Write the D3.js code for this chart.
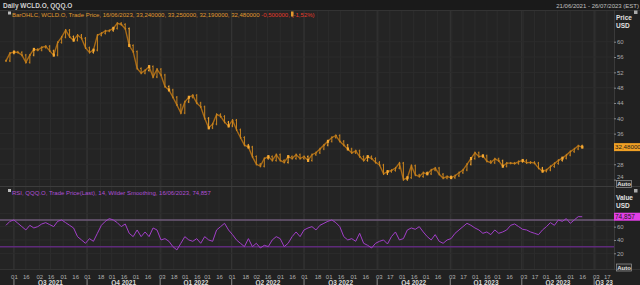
<!DOCTYPE html>
<html lang="en">
<head>
<meta charset="utf-8" />
<title>Daily WCLD.O, QQQ.O</title>
<script src="https://d3js.org/d3.v7.min.js"></script>
<style>
    body {
        margin: 0;
        background: #222222;
        font-family: "Liberation Sans", Arial, sans-serif;
        overflow: hidden;
    }
    svg { display: block; }
</style>
</head>
<body>
<script>
// one sample every 5 days, 21/06/2021 .. 16/06/2023
const firstDay = new Date(2021, 5, 21);
const stepDays = 5;

// WCLD.O close
const closes = [
    55, 57, 57.3, 57.2, 56.5, 54.6, 56.5, 58, 57.8, 58.5,
    58.8, 57.6, 56.5, 59.8, 61.2, 63, 61.3, 60.4, 61.7, 60.9,
    58.4, 57.2, 57.8, 61.7, 62.2, 62.8, 62.9, 63.5, 64.8, 64.5,
    63.4, 59, 57.4, 53, 51.8, 52.5, 53.5, 50.8, 52.8, 51.3,
    48.3, 47.4, 45.5, 43.5, 41.4, 44.3, 45.5, 46, 44, 43,
    40, 37.5, 38.5, 41, 40.5, 39, 38, 39.5, 37, 35,
    33, 32.5, 30, 28, 27.5, 29.5, 30, 29, 30.5, 29,
    28.5, 30, 29.5, 30.5, 29.5, 30, 29, 30.5, 31, 32,
    33, 34, 35, 35.5, 34, 33, 32, 31, 31.5, 30,
    29, 30, 29.5, 28.5, 27.8, 25.5, 26.1, 26.4, 27, 28.3,
    24, 24.5, 27.6, 25.2, 24.8, 25.8, 25.5, 26.5, 27, 25.4,
    24.4, 24.8, 24.5, 25, 25.8, 26.5, 28, 29.5, 31, 30,
    30.2, 28.8, 28.4, 29.4, 28.9, 27.5, 28.3, 28.3, 28.2, 28.7,
    29, 28.4, 28.5, 28.3, 27, 26.2, 26.5, 27.4, 28.2, 29,
    29.6, 30.4, 31.3, 32, 32.8, 32.48
];

// samples drawn as brighter bars
const highlighted = [2, 7, 12, 17, 22, 27, 31, 36, 41, 46, 51, 56, 61, 66, 71, 76,
    81, 86, 91, 96, 101, 106, 112, 117, 120, 125, 130, 135, 140, 145];

// QQQ.O RSI(14)
const rsiValues = [
    62, 68, 70, 65, 60, 55, 62, 58, 60, 64,
    66, 63, 60, 68, 70, 66, 62, 58, 45, 40,
    35, 42, 38, 50, 62, 68, 72, 70, 66, 60,
    64, 50, 45, 55, 45, 52, 45, 58, 55, 40,
    42, 38, 30, 25, 35, 45, 40, 38, 42, 35,
    45, 40, 38, 55, 60, 65, 55, 48, 40, 35,
    30, 42, 30, 35, 28, 32, 30, 40, 45, 42,
    30, 35, 45, 52, 45, 55, 58, 60, 55, 62,
    65, 68, 70, 66, 60, 45, 40, 42, 38, 50,
    35, 32, 28, 35, 38, 40, 34, 45, 52, 40,
    42, 55, 58, 56, 60, 52, 45, 40, 48, 38,
    35, 40, 42, 50, 55, 60, 65, 62, 58, 55,
    50, 52, 48, 55, 50, 52, 55, 62, 64, 60,
    56, 55, 52, 50, 48, 55, 60, 66, 62, 70,
    68, 72, 65, 70, 75, 74.857
];

const priceTicks = [24, 28, 32, 36, 40, 44, 48, 52, 56, 60];
const rsiTicks = [20, 40, 60, 80];
const rsiBands = [30, 70];

const dayTicks = [
    "2021-07-01", "2021-07-16", "2021-08-02", "2021-08-16", "2021-09-01", "2021-09-16",
    "2021-10-01", "2021-10-18", "2021-11-01", "2021-11-16", "2021-12-01", "2021-12-16",
    "2022-01-03", "2022-01-18", "2022-02-01", "2022-02-16", "2022-03-01", "2022-03-16",
    "2022-04-01", "2022-04-18", "2022-05-02", "2022-05-16", "2022-06-01", "2022-06-16",
    "2022-07-01", "2022-07-18", "2022-08-01", "2022-08-16", "2022-09-01", "2022-09-16",
    "2022-10-03", "2022-10-17", "2022-11-01", "2022-11-16", "2022-12-01", "2022-12-16",
    "2023-01-03", "2023-01-17", "2023-02-01", "2023-02-16", "2023-03-01", "2023-03-16",
    "2023-04-03", "2023-04-17", "2023-05-01", "2023-05-16", "2023-06-01", "2023-06-16",
    "2023-07-03", "2023-07-17"
];
const quarterStarts = ["2021-07-01", "2021-10-01", "2022-01-01", "2022-04-01", "2022-07-01",
    "2022-10-01", "2023-01-01", "2023-04-01", "2023-07-01"];
const quarterLabels = ["Q3 2021", "Q4 2021", "Q1 2022", "Q2 2022", "Q3 2022",
    "Q4 2022", "Q1 2023", "Q2 2023", "Q3 23"];

const parse = d3.timeParse("%Y-%m-%d");
const dates = closes.map((c, i) => d3.timeDay.offset(firstDay, i * stepDays));
const rangeStart = parse("2021-06-21");
const rangeEnd = parse("2023-07-26");

const W = 640, H = 285;
const left = 6, right = 614;
const priceTop = 10, priceBottom = 186;
const rsiTop = 187, rsiBottom = 269;

const x = d3.scaleTime().domain([rangeStart, rangeEnd]).range([left, right]);
const yPrice = d3.scaleLinear().domain([24, 60]).range([179.6, 41.7]);
const yRsi = d3.scaleLinear().domain([20, 80]).range([253.3, 213.3]);

const lastClose = closes[closes.length - 1];
const lastRsi = rsiValues[rsiValues.length - 1];

const svg = d3.select("body").append("svg")
    .attr("width", W)
    .attr("height", H);

svg.append("rect").attr("width", W).attr("height", H).attr("fill", "#212121");
svg.append("rect").attr("width", W).attr("height", 10).attr("fill", "#1a1a1a");

// panels
[[priceTop, priceBottom], [rsiTop, rsiBottom]].forEach(function(p) {
    svg.append("rect")
        .attr("x", 0).attr("y", p[0])
        .attr("width", right).attr("height", p[1] - p[0])
        .attr("fill", "#242424");
});

// vertical grid
const grid = svg.append("g");
dayTicks.map(parse).forEach(function(d) {
    [[priceTop, priceBottom], [rsiTop, rsiBottom]].forEach(function(p) {
        grid.append("line")
            .attr("x1", x(d)).attr("x2", x(d))
            .attr("y1", p[0]).attr("y2", p[1])
            .attr("stroke", "#2c2c2c").attr("stroke-width", 1);
    });
});
quarterStarts.map(parse).forEach(function(d) {
    [[priceTop, priceBottom], [rsiTop, rsiBottom]].forEach(function(p) {
        grid.append("line")
            .attr("x1", x(d)).attr("x2", x(d))
            .attr("y1", p[0]).attr("y2", p[1])
            .attr("stroke", "#363636").attr("stroke-width", 1);
    });
});

// horizontal grid
priceTicks.forEach(function(t) {
    grid.append("line")
        .attr("x1", 0).attr("x2", right)
        .attr("y1", yPrice(t)).attr("y2", yPrice(t))
        .attr("stroke", "#2c2c2c");
});
rsiTicks.forEach(function(t) {
    grid.append("line")
        .attr("x1", 0).attr("x2", right)
        .attr("y1", yRsi(t)).attr("y2", yRsi(t))
        .attr("stroke", "#2c2c2c");
});

// panel separators
svg.append("line").attr("x1", 0).attr("x2", W).attr("y1", 10.5).attr("y2", 10.5).attr("stroke", "#333");
svg.append("line").attr("x1", 0).attr("x2", W).attr("y1", 186.5).attr("y2", 186.5).attr("stroke", "#3c3c3c");
svg.append("line").attr("x1", 0).attr("x2", W).attr("y1", 269.5).attr("y2", 269.5).attr("stroke", "#333");
svg.append("line").attr("x1", right + 0.5).attr("x2", right + 0.5).attr("y1", 10).attr("y2", 270).attr("stroke", "#3a3a3a");

// OHLC-style bars
svg.append("path")
    .datum(closes)
    .attr("fill", "none")
    .attr("stroke", "#a86a16")
    .attr("stroke-width", 1.4)
    .attr("d", d3.line()
        .x(function(d, i) { return x(dates[i]); })
        .y(function(d) { return yPrice(d); }));

const bars = svg.append("g").attr("stroke-width", 1);
closes.forEach(function(c, i) {
    const prev = i > 0 ? closes[i - 1] : c;
    const px = x(dates[i]);
    const col = highlighted.includes(i) ? "#f2a531" : "#c88420";
    const hi = yPrice(Math.max(prev, c)) - 1.2;
    const lo = yPrice(Math.min(prev, c)) + 1.2;
    bars.append("line").attr("x1", px).attr("x2", px).attr("y1", hi).attr("y2", lo).attr("stroke", col);
    bars.append("line").attr("x1", px - 1).attr("x2", px).attr("y1", yPrice(prev)).attr("y2", yPrice(prev)).attr("stroke", col);
    bars.append("line").attr("x1", px).attr("x2", px + 1).attr("y1", yPrice(c)).attr("y2", yPrice(c)).attr("stroke", col);
    if (highlighted.includes(i)) {
        bars.append("rect")
            .attr("x", px - 1).attr("y", yPrice(c) - 1.5)
            .attr("width", 2.2).attr("height", 3)
            .attr("fill", "#f5a832").attr("stroke", "none");
    }
});

// RSI bands and line
rsiBands.forEach(function(b) {
    svg.append("line")
        .attr("x1", 0).attr("x2", right)
        .attr("y1", yRsi(b)).attr("y2", yRsi(b))
        .attr("stroke", b > 50 ? "#6e5a78" : "#5e2a7a").attr("stroke-width", 1.5);
});
svg.append("path")
    .datum(rsiValues)
    .attr("fill", "none")
    .attr("stroke", "#a23fc9")
    .attr("stroke-width", 1)
    .attr("d", d3.line()
        .x(function(d, i) { return x(dates[i]); })
        .y(function(d) { return yRsi(d); }));

// right axes; labels hidden behind the last-value boxes are dropped
const priceAxis = svg.append("g")
    .attr("transform", "translate(" + right + ",0)")
    .call(d3.axisRight(yPrice)
        .tickValues(priceTicks.filter(function(t) { return Math.abs(yPrice(t) - yPrice(lastClose)) > 6; }))
        .tickSize(2).tickFormat(d3.format("d")));
const rsiAxis = svg.append("g")
    .attr("transform", "translate(" + right + ",0)")
    .call(d3.axisRight(yRsi)
        .tickValues(rsiTicks.filter(function(t) { return Math.abs(yRsi(t) - yRsi(lastRsi)) > 6; }))
        .tickSize(2).tickFormat(d3.format("d")));
[priceAxis, rsiAxis].forEach(function(a) {
    a.select(".domain").remove();
    a.selectAll("line").attr("stroke", "#888");
    a.selectAll("text").attr("fill", "#a8a8a8").attr("font-size", 6)
        .attr("font-family", "Liberation Sans, Arial, sans-serif").attr("x", 3);
});
// lowest price label sits above the Auto button
priceAxis.selectAll(".tick").filter(function(d) { return d === 24; })
    .select("text").attr("dy", "-0.2em");

// bottom axis
const xAxis = svg.append("g")
    .attr("transform", "translate(0," + rsiBottom + ")")
    .call(d3.axisBottom(x).tickValues(dayTicks.map(parse)).tickSize(0).tickFormat(d3.timeFormat("%d")));
xAxis.select(".domain").remove();
xAxis.selectAll("text").attr("fill", "#b0b0b0").attr("font-size", 6)
    .attr("font-family", "Liberation Sans, Arial, sans-serif").attr("dy", 7);

const qStarts = quarterStarts.map(parse);
qStarts.forEach(function(d, i) {
    const next = i + 1 < qStarts.length ? qStarts[i + 1] : rangeEnd;
    svg.append("line")
        .attr("x1", x(d)).attr("x2", x(d))
        .attr("y1", 279).attr("y2", 285)
        .attr("stroke", "#8a8a8a");
    svg.append("text")
        .attr("x", (x(d) + x(next)) / 2)
        .attr("y", 284.5)
        .attr("text-anchor", "middle")
        .attr("fill", "#d8d8d8")
        .attr("font-size", 6.5)
        .attr("font-weight", "bold")
        .text(quarterLabels[i]);
});

// header texts
svg.append("text").attr("x", 3).attr("y", 7.5)
    .attr("fill", "#d0d0d0").attr("font-size", 6.5).attr("font-weight", "bold")
    .text("Daily WCLD.O, QQQ.O");
svg.append("text").attr("x", 639).attr("y", 7.5)
    .attr("text-anchor", "end")
    .attr("fill", "#c0c0c0").attr("font-size", 6)
    .text("21/06/2021 - 26/07/2023 (EST)");

// legend rows
svg.append("rect").attr("x", 8).attr("y", 11.5).attr("width", 3).attr("height", 3)
    .attr("fill", "#bbb");
const lg = svg.append("text").attr("x", 12).attr("y", 16.5).attr("font-size", 6);
lg.append("tspan").attr("fill", "#e09a2e")
    .text("BarOHLC, WCLD.O, Trade Price, 16/06/2023, 33,240000, 33,250000, 32,190000, 32,480000");
lg.append("tspan").attr("fill", "#e23a2a").text(" -0,500000, (-1,52%)");
svg.append("rect").attr("x", 291).attr("y", 11.5).attr("width", 2.5).attr("height", 5)
    .attr("fill", "#e09a2e");

svg.append("rect").attr("x", 8).attr("y", 189).attr("width", 3).attr("height", 3)
    .attr("fill", "#bbb");
svg.append("text").attr("x", 12).attr("y", 194.5).attr("font-size", 6)
    .attr("fill", "#b04fd6")
    .text("RSI, QQQ.O, Trade Price(Last),  14, Wilder Smoothing, 16/06/2023, 74,857");

// right side labels
function sideLabel(y, t) {
    svg.append("text").attr("x", 616).attr("y", y)
        .attr("fill", "#e0e0e0").attr("font-size", 6.5).attr("font-weight", "bold").text(t);
}
sideLabel(20, "Price");
sideLabel(28, "USD");
sideLabel(199.5, "Value");
sideLabel(207.5, "USD");
svg.append("rect").attr("x", 634).attr("y", 10.5).attr("width", 3.5).attr("height", 3.5).attr("fill", "#aaa");
svg.append("rect").attr("x", 634).attr("y", 189).attr("width", 3.5).attr("height", 3.5).attr("fill", "#aaa");

// last value boxes
svg.append("rect").attr("x", 614).attr("y", yPrice(lastClose) - 4)
    .attr("width", 26).attr("height", 8).attr("fill", "#f0a024");
svg.append("text").attr("x", 615).attr("y", yPrice(lastClose) + 2.3)
    .attr("font-size", 6.2).attr("fill", "#1a1a1a").text("32,48000");
svg.append("rect").attr("x", 614).attr("y", yRsi(lastRsi) - 4)
    .attr("width", 26).attr("height", 8).attr("fill", "#e23fe6");
svg.append("text").attr("x", 615).attr("y", yRsi(lastRsi) + 2.3)
    .attr("font-size", 6.5).attr("fill", "#1a1a1a").text("74,857");

// Auto buttons
function autoBox(y) {
    svg.append("rect").attr("x", 616.5).attr("y", y).attr("width", 15).attr("height", 7)
        .attr("fill", "#2a2a2a").attr("stroke", "#9a9a9a").attr("stroke-width", 0.7);
    svg.append("text").attr("x", 624).attr("y", y + 5.6).attr("text-anchor", "middle")
        .attr("fill", "#e0e0e0").attr("font-size", 6).attr("font-weight", "bold").text("Auto");
}
autoBox(180.5);
autoBox(264);
</script>
</body>
</html>
